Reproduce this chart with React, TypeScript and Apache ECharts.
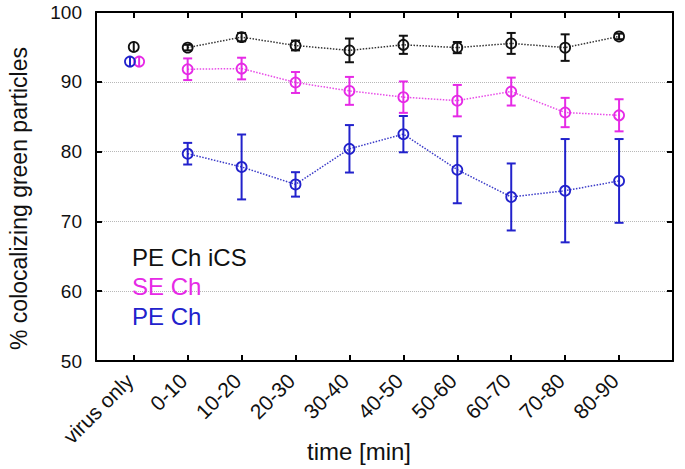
import React, { useEffect, useRef } from "react";
import * as echarts from "echarts";

const categories = ["virus only", "0-10", "10-20", "20-30", "30-40", "40-50", "50-60", "60-70", "70-80", "80-90"];
const yTicks = [50, 60, 70, 80, 90, 100];
const xTitle = "time [min]";
const yTitle = "% colocalizing green particles";

const icsMean = [95.0, 94.9, 96.4, 95.2, 94.5, 95.3, 94.9, 95.5, 94.9, 96.5];
const icsErr = [0.8, 0.4, 0.6, 0.7, 1.7, 1.3, 0.8, 1.5, 1.9, 0.4];
const seMean = [92.9, 91.8, 91.9, 89.9, 88.7, 87.8, 87.3, 88.6, 85.6, 85.2];
const seErr = [0.8, 1.55, 1.55, 1.5, 2.0, 2.25, 2.25, 2.0, 2.1, 2.3];
const peMean = [92.9, 79.7, 77.8, 75.3, 80.4, 82.5, 77.4, 73.5, 74.4, 75.8];
const peErr = [0.8, 1.55, 4.65, 1.75, 3.4, 2.6, 4.8, 4.8, 7.4, 6.0];

const seriesDefs = [
  { name: "PE Ch iCS", mean: icsMean, err: icsErr, color: "#111111", lineColor: "#333333", offset: 0 },
  { name: "SE Ch", mean: seMean, err: seErr, color: "#e62ae6", lineColor: "#e84ce8", offset: 0.1 },
  { name: "PE Ch", mean: peMean, err: peErr, color: "#2222cc", lineColor: "#3a3ac8", offset: -0.07 },
];

const FONT = "Liberation Sans, Arial, Helvetica, sans-serif";

export default function App() {
  const ref = useRef<HTMLDivElement>(null);
  useEffect(() => {
    if (!ref.current) return;
    const chart = echarts.init(ref.current, null, { renderer: "svg" });

    const series: any[] = [];
    seriesDefs.forEach((s) => {
      series.push({
        type: "line",
        name: s.name + " line",
        xAxisIndex: 0,
        yAxisIndex: 0,
        data: s.mean.map((v, i) => [i, v]).slice(1),
        symbol: "none",
        lineStyle: { color: s.lineColor, width: 1.5, type: "dotted" },
        z: 2,
      });
      series.push({
        type: "custom",
        name: s.name,
        xAxisIndex: 0,
        yAxisIndex: 0,
        data: s.mean.map((v, i) => [i === 0 ? i + s.offset : i, v, s.err[i], i === 0 ? 0 : 1]),
        renderItem: (params: any, api: any) => {
          const x = api.value(0);
          const y = api.value(1);
          const e = api.value(2);
          const cap = api.value(3);
          const c = api.coord([x, y]);
          const t = api.coord([x, y + e]);
          const b = api.coord([x, y - e]);
          const hw = 4.5;
          const stroke = { stroke: s.color, lineWidth: 2 };
          const children: any[] = [
            { type: "line", shape: { x1: c[0], y1: t[1], x2: c[0], y2: b[1] }, style: stroke },
            { type: "circle", shape: { cx: c[0], cy: c[1], r: 5 }, style: { fill: "rgba(0,0,0,0)", stroke: s.color, lineWidth: 1.8 } },
          ];
          if (cap) {
            children.push({ type: "line", shape: { x1: c[0] - hw, y1: t[1], x2: c[0] + hw, y2: t[1] }, style: stroke });
            children.push({ type: "line", shape: { x1: c[0] - hw, y1: b[1], x2: c[0] + hw, y2: b[1] }, style: stroke });
          }
          return { type: "group", children };
        },
        z: 3,
      });
    });

    const tickPositions = categories.map((_, i) => i);

    chart.setOption({
      animation: false,
      backgroundColor: "#ffffff",
      grid: { left: 96, right: 12, top: 12, bottom: 108, containLabel: false, outerBoundsMode: "none" },
      xAxis: [
        {
          type: "value",
          position: "bottom",
          min: -0.7,
          max: 10,
          axisLine: { show: true, onZero: false, lineStyle: { color: "#000", width: 2 } },
          axisTick: { show: true, inside: true, length: 6, lineStyle: { color: "#000", width: 2 }, customValues: tickPositions },
          axisLabel: {
            show: true,
            customValues: tickPositions,
            rotate: 45,
            margin: 12,
            padding: [0, 6, 0, 0],
            fontFamily: FONT,
            fontSize: 21,
            color: "#111",
            formatter: (v: number) => categories[Math.round(v)] ?? "",
          },
          splitLine: { show: false },
        },
        {
          type: "value",
          position: "top",
          min: -0.7,
          max: 10,
          axisLine: { show: true, onZero: false, lineStyle: { color: "#000", width: 2 } },
          axisTick: { show: true, inside: true, length: 6, lineStyle: { color: "#000", width: 2 }, customValues: tickPositions },
          axisLabel: { show: false },
          splitLine: { show: false },
        },
      ],
      yAxis: [
        {
          type: "value",
          position: "left",
          min: yTicks[0],
          max: yTicks[yTicks.length - 1],
          interval: 10,
          name: yTitle,
          nameLocation: "middle",
          nameGap: 66,
          nameTextStyle: { fontFamily: FONT, fontSize: 23, color: "#111", padding: [0, 24, 0, 0] },
          axisLine: { show: true, onZero: false, lineStyle: { color: "#000", width: 2 } },
          axisTick: { show: true, inside: true, length: 6, lineStyle: { color: "#000", width: 2 } },
          axisLabel: { fontFamily: FONT, fontSize: 19, color: "#111", margin: 14 },
          splitLine: { show: true, lineStyle: { color: "#b8b8b8", width: 1, type: "dotted" } },
        },
        {
          type: "value",
          position: "right",
          min: yTicks[0],
          max: yTicks[yTicks.length - 1],
          interval: 10,
          axisLine: { show: true, onZero: false, lineStyle: { color: "#000", width: 2 } },
          axisTick: { show: true, inside: true, length: 6, lineStyle: { color: "#000", width: 2 } },
          axisLabel: { show: false },
          splitLine: { show: false },
        },
      ],
      graphic: [
        ...seriesDefs.map((s, i) => ({
          type: "text",
          x: 132,
          y: 257 + i * 29.5,
          z: 10,
          style: {
            text: s.name,
            fill: s.color,
            fontFamily: FONT,
            fontSize: 24,
            verticalAlign: "middle",
          },
        })),
        {
          type: "text",
          x: 359,
          y: 451,
          z: 10,
          style: {
            text: xTitle,
            fill: "#111",
            fontFamily: FONT,
            fontSize: 24,
            align: "center",
            verticalAlign: "middle",
          },
        },
      ],
      series,
    });

    return () => chart.dispose();
  }, []);

  return <div ref={ref} style={{ width: 685, height: 469, position: "absolute", left: 0, top: 0 }} />;
}
